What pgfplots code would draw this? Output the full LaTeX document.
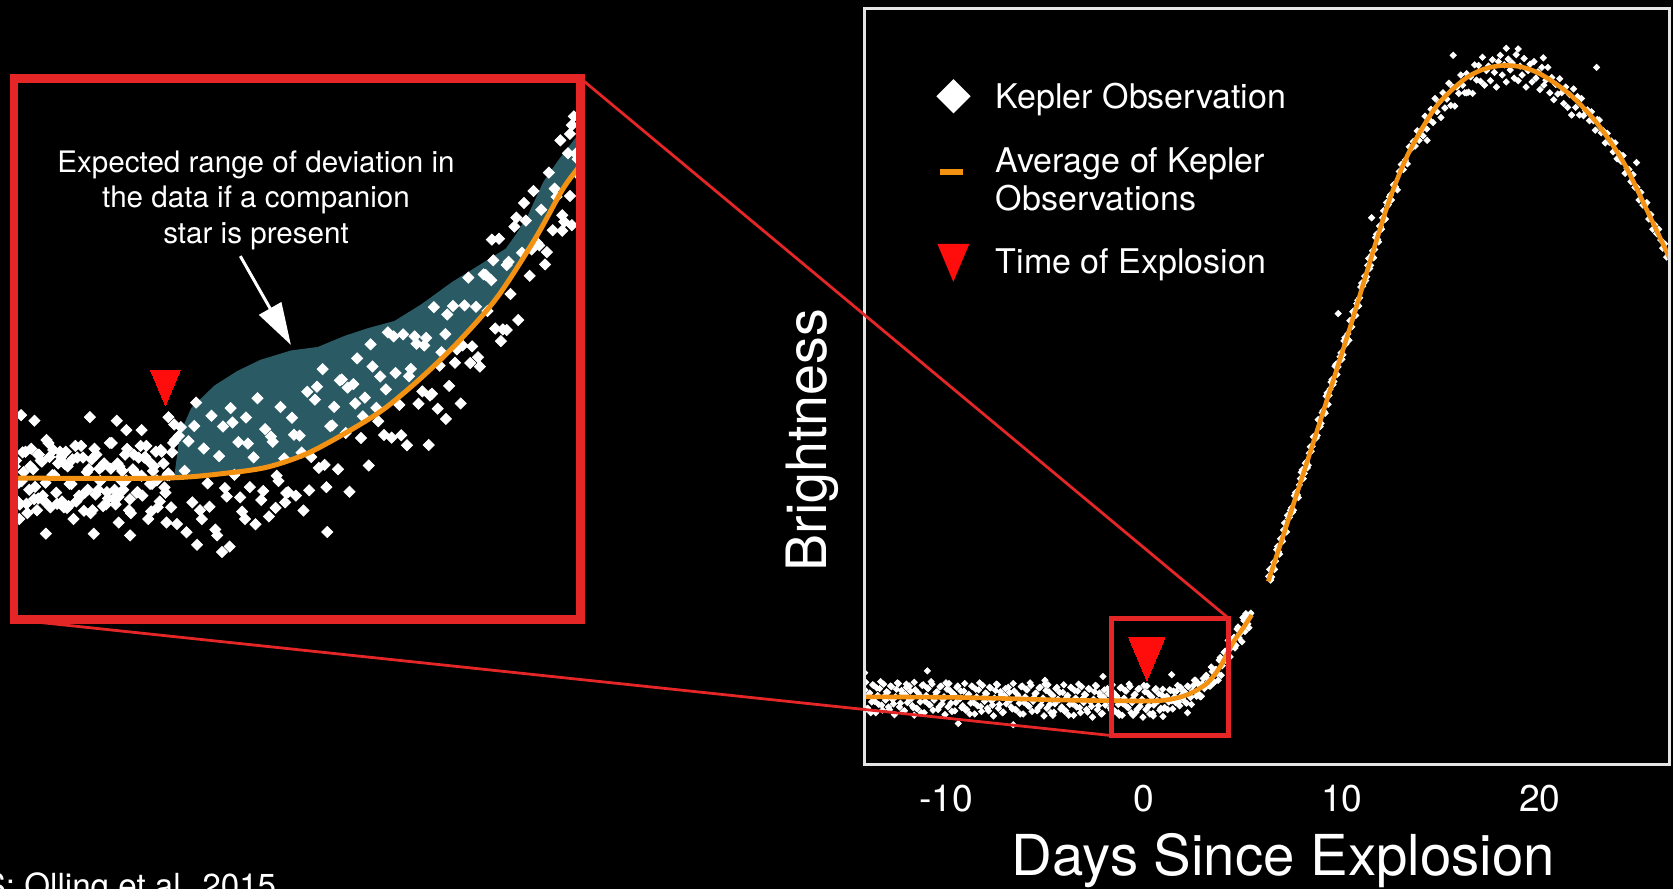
\documentclass[border=0pt]{standalone}
\usepackage{pgfplots}
\pgfplotsset{compat=1.18}
\usetikzlibrary{arrows.meta}
\usepackage{fontspec}
\setmainfont{TeX Gyre Heros}
\definecolor{boxred}{RGB}{229,38,38}
\definecolor{triRed}{RGB}{255,12,12}
\definecolor{orangeC}{RGB}{242,145,18}
\definecolor{tealC}{RGB}{42,91,101}
\definecolor{frameC}{RGB}{228,228,228}
\begin{document}
\begin{tikzpicture}
\useasboundingbox (0pt,0pt) rectangle (418.25pt,-222.25pt);
\clip (0pt,0pt) rectangle (418.25pt,-222.25pt);
\fill[black] (0pt,0pt) rectangle (418.25pt,-222.25pt);

% ---------------- main chart ----------------
\begin{axis}[name=main, at={(216pt,-191.075pt)}, anchor=south west,
  scale only axis, width=201.25pt, height=189pt,
  xmin=-14.14, xmax=26.52, ymin=-101.3, ymax=1090.1,
  clip marker paths=true,
  axis line style={draw=frameC, line width=0.75pt}, axis on top,
  ytick=\empty, xtick={-10,0,10,20}, xticklabels={-10,0,10,20},
  major tick length=0pt,
  xticklabel style={font=\fontsize{9.3pt}{11pt}\selectfont, text=white, anchor=base, yshift=-11.7pt},
  xlabel={Days Since Explosion},
  xlabel style={font=\fontsize{14.1pt}{16pt}\selectfont, text=white, at={(axis description cs:0.521,-0.1466)}, anchor=base},
  ylabel={Brightness},
  ylabel style={font=\fontsize{13.9pt}{16pt}\selectfont, text=white, at={(axis description cs:-0.046,0.429)}, anchor=base},
  legend cell align=left,
  legend style={at={(axis description cs:0.0903,0.906)}, anchor=north west, draw=none, fill=none,
    inner sep=0pt, outer sep=0pt, text=white, font=\fontsize{8.5pt}{9.5pt}\selectfont,
    column sep=6.4pt, row sep=8.825pt, cells={anchor=west},
    nodes={inner sep=0pt, text height=6.1pt, text depth=0pt}},
]
\addlegendimage{legend image code/.code={\fill[white] (4pt,4pt) -- (8pt,0pt) -- (4pt,-4pt) -- (0pt,0pt) -- cycle;}}
\addlegendentry{Kepler Observation}
\addlegendimage{legend image code/.code={\fill[orangeC] (0.93pt,-3.5pt) rectangle (6.1pt,-2.25pt); \path (0pt,-11.85pt) (8pt,0pt);}}
\addlegendentry{\begin{tabular}[t]{@{}l@{}}Average of Kepler\\Observations\end{tabular}}
\addlegendimage{legend image code/.code={\fill[triRed] (0.275pt,4.25pt) -- (7.65pt,4.25pt) -- (3.96pt,-4.5pt) -- cycle;}}
\addlegendentry{Time of Explosion}

% Kepler observations (brightness in thousandths of peak)
\addplot[only marks, mark=square*, mark size=0.55pt, mark options={draw=white, fill=white, line width=0.2pt, rotate=45}, forget plot] table {
x y
-14.1 16
-14.0 -14
-13.9 8
-13.8 -20
-13.7 24
-13.6 -2
-13.5 19
-13.4 -7
-13.3 29
-13.2 -16
-13.1 6
-13.0 13
-12.9 -11
-12.8 22
-12.7 1
-12.6 -23
-12.5 17
-12.4 26
-12.3 -5
-12.2 10
-12.1 -17
-12.0 20
-11.9 3
-11.8 14
-11.7 -9
-11.6 28
-11.5 -13
-11.4 11
-11.3 -3
-11.2 23
-11.1 -20
-11.0 7
-10.9 18
-10.8 -8
-10.7 25
-10.6 0
-10.5 12
-10.4 -15
-10.3 21
-10.2 -6
-10.1 5
-10.0 27
-9.9 -11
-9.8 15
-9.7 -18
-9.6 9
-9.5 -4
-9.4 22
-9.3 2
-9.2 -12
-9.1 14
-9.0 -16
-8.9 6
-8.8 -22
-8.7 22
-8.6 -4
-8.5 17
-8.4 -9
-8.3 27
-8.2 -18
-8.1 4
-8.0 11
-7.9 -13
-7.8 20
-7.7 -1
-7.6 -25
-7.5 15
-7.4 24
-7.3 -7
-7.2 8
-7.1 -19
-7.0 18
-6.9 1
-6.8 12
-6.7 -11
-6.6 26
-6.5 -15
-6.4 9
-6.3 -5
-6.2 21
-6.1 -22
-6.0 5
-5.9 16
-5.8 -10
-5.7 23
-5.6 -2
-5.5 10
-5.4 -17
-5.3 19
-5.2 -8
-5.1 3
-5.0 25
-4.9 -13
-4.8 13
-4.7 -20
-4.6 7
-4.5 -6
-4.4 20
-4.3 0
-4.2 -14
-4.1 12
-4.0 -18
-3.9 4
-3.8 -24
-3.7 20
-3.6 -6
-3.5 15
-3.4 -11
-3.3 25
-3.2 -20
-3.1 2
-3.0 9
-2.9 -15
-2.8 18
-2.7 -3
-2.6 -27
-2.5 13
-2.4 22
-2.3 -9
-2.2 6
-2.1 -21
-2.0 16
-1.9 -1
-1.8 10
-1.7 -13
-1.6 24
-1.5 -17
-1.4 7
-1.3 -7
-1.2 19
-1.1 -24
-1.0 3
-0.9 14
-0.8 -12
-0.7 21
-0.6 -4
-0.5 8
-0.4 -19
-0.3 17
-0.2 -10
-0.1 1
0.0 23
0.1 -15
0.2 11
0.3 -22
0.4 5
0.5 -8
0.6 18
0.7 -2
0.8 -16
-14.05 28
-13.95 -13
-13.85 11
-13.75 -3
-13.65 23
-13.55 -20
-13.45 7
-13.35 18
-13.25 -8
-13.15 25
-13.05 0
-12.95 12
-12.85 -15
-12.75 21
-12.65 -6
-12.55 5
-12.45 27
-12.35 -11
-12.25 15
-12.15 -18
-12.05 9
-11.95 -4
-11.85 22
-11.75 2
-11.65 -12
-11.55 16
-11.45 -14
-11.35 8
-11.25 -20
-11.15 24
-11.05 -2
-10.95 19
-10.85 -7
-10.75 29
-10.65 -16
-10.55 6
-10.45 13
-10.35 -11
-10.25 22
-10.15 1
-10.05 -23
-9.95 17
-9.85 26
-9.75 -5
-9.65 10
-9.55 -17
-9.45 20
-9.35 3
-9.25 14
-9.15 -9
-9.05 26
-8.95 -15
-8.85 9
-8.75 -5
-8.65 21
-8.55 -22
-8.45 5
-8.35 16
-8.25 -10
-8.15 23
-8.05 -2
-7.95 10
-7.85 -17
-7.75 19
-7.65 -8
-7.55 3
-7.45 25
-7.35 -13
-7.25 13
-7.15 -20
-7.05 7
-6.95 -6
-6.85 20
-6.75 0
-6.65 -14
-6.55 14
-6.45 -16
-6.35 6
-6.25 -22
-6.15 22
-6.05 -4
-5.95 17
-5.85 -9
-5.75 27
-5.65 -18
-5.55 4
-5.45 11
-5.35 -13
-5.25 20
-5.15 -1
-5.05 -25
-4.95 15
-4.85 24
-4.75 -7
-4.65 8
-4.55 -19
-4.45 18
-4.35 1
-4.25 12
-4.15 -11
-4.05 24
-3.95 -17
-3.85 7
-3.75 -7
-3.65 19
-3.55 -24
-3.45 3
-3.35 14
-3.25 -12
-3.15 21
-3.05 -4
-2.95 8
-2.85 -19
-2.75 17
-2.65 -10
-2.55 1
-2.45 23
-2.35 -15
-2.25 11
-2.15 -22
-2.05 5
-1.95 -8
-1.85 18
-1.75 -2
-1.65 -16
-1.55 12
-1.45 -18
-1.35 4
-1.25 -24
-1.15 20
-1.05 -6
-0.95 15
-0.85 -11
-0.75 25
-0.65 -20
-0.55 2
-0.45 9
-0.35 -15
-0.25 18
-0.15 -3
-0.05 -27
0.05 13
0.15 22
0.25 -9
0.35 6
0.45 -21
0.55 16
0.65 -1
0.75 10
0.85 -13
-14.1 43
-10.94 46
-6.6 -39
-2.07 37
1.4 40
2.2 -20
-1.3 -20
0.96 -26
-5.0 31
-12.0 25
-9.38 -37
-11.6 -24
0.47 -25
-0.55 -24
-4.6 -24
0.9 8
1.0 -13
1.1 4
1.2 -15
1.3 16
1.4 -1
1.5 14
1.6 -4
1.7 23
1.8 -9
1.9 7
2.0 13
2.1 -4
2.2 22
2.3 8
2.4 -7
2.5 23
2.6 31
2.7 12
2.8 23
2.9 6
3.0 34
3.1 24
3.2 34
3.3 22
3.4 52
3.5 27
3.6 48
3.7 42
3.8 63
3.9 39
4.0 63
4.1 77
4.2 65
4.3 94
4.4 82
4.5 97
4.6 82
4.7 112
4.8 98
4.9 110
5.0 130
5.1 108
5.2 132
5.3 114
5.4 137
0.95 17
1.05 -12
1.15 6
1.25 -3
1.35 15
1.45 -14
1.55 5
1.65 14
1.75 -3
1.85 20
1.95 3
2.05 13
2.15 -5
2.25 21
2.35 4
2.45 14
2.55 31
2.65 6
2.75 26
2.85 5
2.95 26
3.05 18
3.15 39
3.25 28
3.35 22
3.45 45
3.55 28
3.65 48
3.75 31
3.85 67
3.95 54
4.05 75
4.15 62
4.25 94
4.35 68
4.45 89
4.55 99
4.65 86
4.75 115
4.85 105
4.95 92
5.05 125
5.15 136
5.25 120
5.35 135
6.3 195
6.4 189
6.5 210
6.6 206
6.7 237
6.8 234
6.9 254
7.0 250
7.1 279
7.2 265
7.3 286
7.4 299
7.5 296
7.6 322
7.7 321
7.8 319
7.9 349
8.0 363
8.1 357
8.2 375
8.3 370
8.4 399
8.5 400
8.6 415
8.7 413
8.8 442
8.9 431
9.0 453
9.1 455
9.2 479
9.3 466
9.4 490
9.5 505
9.6 502
9.7 529
9.8 525
9.9 541
10.0 537
10.1 566
10.2 561
10.3 577
10.4 598
10.5 588
10.6 613
10.7 606
10.8 630
10.9 634
11.0 657
11.1 657
11.2 661
11.3 685
11.4 680
11.5 701
11.6 697
11.7 729
11.8 726
11.9 747
12.0 742
12.1 771
12.2 758
12.3 779
12.4 793
12.5 788
12.6 812
12.7 809
12.8 804
12.9 833
13.0 844
13.1 836
13.2 851
13.3 845
13.4 872
13.5 869
13.6 880
13.7 873
13.8 897
13.9 882
6.35 206
6.45 194
6.55 217
6.65 219
6.75 242
6.85 230
6.95 253
7.05 268
7.15 265
7.25 291
7.35 288
7.45 303
7.55 299
7.65 327
7.75 323
7.85 339
7.95 359
8.05 349
8.15 373
8.25 366
8.35 389
8.45 392
8.55 415
8.65 414
8.75 417
8.85 441
8.95 436
9.05 456
9.15 452
9.25 484
9.35 480
9.45 501
9.55 497
9.65 526
9.75 513
9.85 533
9.95 547
10.05 544
10.15 571
10.25 569
10.35 567
10.45 598
10.55 612
10.65 607
10.75 625
10.85 621
10.95 651
11.05 652
11.15 668
11.25 667
11.35 696
11.45 685
11.55 708
11.65 710
11.75 734
11.85 722
11.95 746
12.05 760
12.15 757
12.25 784
12.35 781
12.45 796
14.0 898
14.1 889
14.2 920
14.3 882
14.4 915
14.5 931
14.6 910
14.7 948
14.8 927
14.9 942
15.0 918
15.1 957
15.2 933
15.3 947
15.4 972
15.5 937
15.6 966
15.7 936
15.8 966
15.9 956
16.0 985
16.1 969
16.2 957
16.3 987
16.4 958
16.5 982
16.6 956
16.7 1001
16.8 977
16.9 1000
17.0 975
17.1 1013
17.2 969
17.3 992
17.4 999
17.5 976
17.6 1009
17.7 989
17.8 966
17.9 1006
18.0 1016
18.1 985
18.2 1001
18.3 974
18.4 1010
18.5 993
18.6 1004
18.7 980
18.8 1017
18.9 976
19.0 999
19.1 985
19.2 1011
19.3 966
19.4 992
19.5 1002
19.6 974
19.7 1006
19.8 980
19.9 990
20.0 962
20.1 997
20.2 969
20.3 977
20.4 997
20.5 957
20.6 981
20.7 946
20.8 970
20.9 955
21.0 979
21.1 957
21.2 940
21.3 966
21.4 934
21.5 954
21.6 922
21.7 963
21.8 934
21.9 951
22.0 922
22.1 948
22.2 921
22.3 929
22.4 930
22.5 913
22.6 927
22.7 913
22.8 898
22.9 915
23.0 914
23.1 894
23.2 897
23.3 878
23.4 893
23.5 879
23.6 881
23.7 864
23.8 878
23.9 853
24.0 861
24.1 849
24.2 858
24.3 830
24.4 838
24.5 836
24.6 817
24.7 828
24.8 808
24.9 808
25.0 788
25.1 800
25.2 780
25.3 780
25.4 784
25.5 758
25.6 765
25.7 742
25.8 749
25.9 735
26.0 742
26.1 725
26.2 712
26.3 719
26.4 698
26.5 702
22.86 997
9.81 609
24.88 847
15.62 1016
16.3 957
18.3 1027
18.9 1026
11.5 760
14.28 900
20.17 1012
};

% average of Kepler observations
\addplot[orangeC, line width=1.15pt, smooth, forget plot] coordinates {
(-14.14,5) (-9.3,4) (-4.2,0) (-1.7,-1) (0.8,-1) (2.16,8) (3.17,26) (3.84,52) (4.49,90) (5.0,113) (5.44,134)};
\addplot[orangeC, line width=1.15pt, smooth, forget plot] coordinates {
(6.28,187) (7.71,324) (9.06,455) (10.40,586) (11.41,690) (12.42,790) (13.43,866) (14.78,936) (16.13,977) (17.14,994) (18.15,1000) (19.16,997) (20.17,984) (21.52,954) (22.86,910) (24.21,848) (25.39,773) (26.48,701) (26.6,693)};

\draw[boxred, line width=1.25pt] (axis cs:-1.64,-56) rectangle (axis cs:4.27,129);
\coordinate (boxTR) at (axis cs:4.27,129);
\coordinate (boxBL) at (axis cs:-1.64,-56);

% time of explosion
\addplot[only marks, mark=triangle*, mark size=5.2pt, mark options={draw=triRed, fill=triRed, line width=0pt, yscale=-1.37}, forget plot] coordinates {(0.15,75.7)};
\end{axis}

% ---------------- inset ----------------
\begin{axis}[name=inset, at={(3.5pt,-154.925pt)}, anchor=south west,
  scale only axis, width=141.625pt, height=135.35pt,
  xmin=-1.64, xmax=4.27, ymin=-56, ymax=129,
  clip marker paths=true,
  axis line style={draw=boxred, line width=2.125pt}, axis on top,
  xtick=\empty, ytick=\empty]
% expected range of deviation with a companion star
\addplot[fill=tealC, draw=none] coordinates {
(0.03,-7.6) (0.09,7.5) (0.21,16.4) (0.45,24) (0.69,29) (0.93,32.8) (1.25,36) (1.53,37.2) (1.81,41) (2.05,43.6) (2.33,46.1) (2.61,51.8) (2.93,59.4) (3.21,65.1) (3.49,70.8) (3.60,75.8) (3.72,82.1) (3.88,93.5) (4.04,101.1) (4.22,108.7) (4.30,111)
(4.30,101) (4.263,99.2) (4.083,91) (3.804,74.6) (3.404,54.3) (3.003,39.2) (2.606,26.6) (2.207,15.7) (1.803,7.5) (1.406,0.6) (1.010,-3.8) (0.609,-5.8) (0.03,-7.6)} -- cycle;

\addplot[only marks, mark=square*, mark size=0.98pt, mark options={draw=white, fill=white, line width=0.2pt, rotate=45}] table {
x y
-1.62 -1.6
-1.58 -16.6
-1.54 -5.6
-1.50 -19.6
-1.46 2.4
-1.42 -10.6
-1.38 0.4
-1.34 -13.6
-1.30 5.4
-1.26 -17.6
-1.22 -6.6
-1.18 -2.6
-1.14 -15.6
-1.10 1.4
-1.06 -9.6
-1.02 -21.6
-0.98 -0.6
-0.94 3.4
-0.90 -12.6
-0.86 -4.6
-0.82 -18.6
-0.78 0.4
-0.74 -8.6
-0.70 -2.6
-0.66 -14.6
-0.62 4.4
-0.58 -16.6
-0.54 -3.6
-0.50 -11.6
-0.46 2.4
-0.42 -19.6
-0.38 -5.6
-0.34 -0.6
-0.30 -13.6
-0.26 3.4
-0.22 -9.6
-0.18 -3.6
-0.14 -17.6
-0.10 1.4
-0.06 -12.6
-0.02 -6.6
0.02 4.4
-1.60 -15.6
-1.56 -8.6
-1.52 1.4
-1.48 -11.6
-1.44 -4.6
-1.40 -18.6
-1.36 -1.6
-1.32 -15.6
-1.28 4.4
-1.24 -6.6
-1.20 -12.6
-1.16 1.4
-1.12 -17.6
-1.08 -3.6
-1.04 -9.6
-1.00 3.4
-0.96 -13.6
-0.92 -0.6
-0.88 -5.6
-0.84 -19.6
-0.80 2.4
-0.76 -11.6
-0.72 -3.6
-0.68 -16.6
-0.64 4.4
-0.60 -14.6
-0.56 -2.6
-0.52 -8.6
-0.48 0.4
-0.44 -18.6
-0.40 -4.6
-0.36 -12.6
-0.32 3.4
-0.28 -0.6
-0.24 -21.6
-0.20 -9.6
-0.16 1.4
-0.12 -15.6
-0.08 -2.6
-0.04 -6.6
0.00 -17.6
0.04 5.4
-1.63 -3.6
-1.59 -9.2
-1.55 1.2
-1.51 -16.4
-1.47 -3.6
-1.43 -14.8
-1.39 0.4
-1.35 -2.0
-1.31 -9.2
-1.27 -0.4
-1.23 2.0
-1.19 -16.4
-1.15 -0.4
-1.11 -2.8
-1.07 -17.2
-1.03 -1.2
-0.99 -15.6
-0.95 -14.0
-0.91 -18.8
-0.87 -11.6
-0.83 -1.2
-0.79 -13.2
-0.75 -4.4
-0.71 -17.2
-0.67 -12.4
-0.63 -4.4
-0.59 -11.6
-0.55 -14.0
-0.51 -5.2
-0.47 -8.4
-0.43 -14.8
-0.39 0.4
-0.35 -12.4
-0.31 -6.8
-0.27 -0.4
-0.23 -2.0
-0.19 -5.2
-0.15 -8.4
-0.11 2.0
-0.07 -10.8
-0.03 -6.0
0.01 1.2
-1.566 13.9
-1.427 12.0
-0.848 13.2
-0.568 12.0
-0.468 8.8
-0.309 8.8
-0.029 13.2
0.031 10.7
-1.307 -26.6
-0.808 -26.6
-0.428 -27.2
-0.548 -22.8
-1.387 -14.6
-1.087 -17.8
-1.586 -21.6
-0.049 -22.8
-0.209 -19.0
0.270 -30.4
0.530 -32.9
0.610 -31.0
1.628 -26.0
0.770 -21.6
1.089 -17.8
1.189 -15.9
0.06 -23.3
0.10 9.8
0.14 -5.1
0.18 5.0
0.22 -15.9
0.26 18.2
0.30 -18.6
0.34 2.5
0.38 -9.4
0.42 13.7
0.46 -25.2
0.50 -0.1
0.54 10.0
0.58 -13.9
0.62 16.3
0.66 -6.5
0.70 4.7
0.74 -19.1
0.78 13.1
0.82 -10.7
0.86 -0.5
0.90 19.7
0.94 -15.1
0.98 9.1
1.02 -20.7
1.06 4.8
1.10 -6.8
1.14 16.7
1.18 -0.9
1.22 -12.4
1.26 13.0
1.30 -13.6
1.34 6.9
1.38 -18.7
1.42 21.9
1.46 -0.4
1.50 19.2
1.54 -4.1
1.58 29.6
1.62 -10.7
1.66 10.1
1.70 16.7
1.74 -4.6
1.78 26.1
1.82 7.8
1.86 -12.3
1.90 24.5
1.94 33.3
1.98 6.1
2.02 19.9
2.06 -3.3
2.10 30.5
2.14 16.4
2.18 27.1
2.22 7.1
2.26 42.2
2.30 6.2
2.34 28.3
2.38 17.4
2.42 41.5
2.46 3.6
2.50 29.7
2.54 40.8
2.58 17.8
0.08 6.8
0.16 -26.1
0.24 10.2
0.32 -21.6
0.40 -17.4
0.48 -27.2
0.56 -11.0
0.64 11.4
0.72 -14.2
0.80 4.2
0.88 -23.4
0.96 -12.0
1.04 6.6
1.12 -8.6
1.20 -12.7
1.28 7.2
1.36 1.1
1.44 -11.8
1.52 23.6
1.60 -3.1
1.68 10.4
1.76 25.8
1.84 23.3
1.92 17.9
2.00 13.5
2.08 38.1
2.16 11.8
2.24 22.7
2.32 40.8
2.40 7.0
2.48 27.2
2.56 38.3
2.62 22.0
2.66 40.3
2.70 20.6
2.74 50.8
2.78 16.1
2.82 35.4
2.86 41.6
2.90 23.9
2.94 51.2
2.98 36.4
3.02 17.9
3.06 51.4
3.10 60.9
3.14 37.4
3.18 50.9
3.22 30.5
3.26 62.0
3.30 49.5
3.34 60.0
3.38 43.5
3.42 74.2
3.46 43.2
3.50 65.2
3.54 55.3
3.58 78.3
3.62 46.4
3.66 69.4
3.70 80.4
3.74 61.5
3.78 90.5
3.82 72.7
3.86 84.1
3.90 65.4
3.94 96.8
3.98 77.1
4.02 88.5
4.06 107.8
4.10 80.0
4.14 103.4
4.18 78.8
4.22 103.2
4.26 95.6
2.64 37.7
2.72 21.2
2.80 30.8
2.88 48.3
2.96 31.8
3.04 37.7
3.12 31.7
3.20 33.7
3.28 61.8
3.36 66.8
3.44 39.2
3.52 66.3
3.60 81.4
3.68 86.4
3.76 70.5
3.84 71.9
3.92 69.6
4.00 91.3
4.08 76.9
4.16 88.8
4.24 101.4
4.18 113
4.20 116
4.16 110
3.345 73.9
4.28 88.5
4.08 82.2
3.50 43.0
2.866 12.6
2.686 3.7
};

\addplot[orangeC, line width=1.25pt, smooth] coordinates {
(-1.70,-7.6) (-0.069,-7.6) (0.609,-5.8) (1.010,-3.8) (1.406,0.6) (1.803,7.5) (2.207,15.7) (2.606,26.6) (3.003,39.2) (3.404,54.3) (3.804,74.6) (4.083,91) (4.263,99.2) (4.35,104)};

\addplot[only marks, mark=triangle*, mark size=4.2pt, mark options={draw=triRed, fill=triRed, line width=0pt, yscale=-1.37}] coordinates {(-0.06,25.1)};
\end{axis}

% annotation
\node[anchor=base, text=white, font=\fontsize{7.4pt}{8.75pt}\selectfont] at (64pt,-43.225pt) {Expected range of deviation in};
\node[anchor=base, text=white, font=\fontsize{7.4pt}{8.75pt}\selectfont] at (64pt,-52pt) {the data if a companion};
\node[anchor=base, text=white, font=\fontsize{7.4pt}{8.75pt}\selectfont] at (64pt,-60.75pt) {star is present};
\draw[white, line width=0.75pt, -{Triangle[length=10.5pt, width=6.3pt]}] (60.075pt,-64.025pt) -- (72.725pt,-86.225pt);

% connectors
\draw[boxred, line width=0.7pt] (inset.north east) -- (boxTR);
\draw[boxred, line width=0.7pt] (inset.south west) -- (boxBL);

\node[anchor=base east, text=white, font=\fontsize{8.3pt}{10pt}\selectfont, inner sep=0pt] at (69.25pt,-224.25pt) {SOURCES: Olling et al. 2015};
\end{tikzpicture}
\end{document}
